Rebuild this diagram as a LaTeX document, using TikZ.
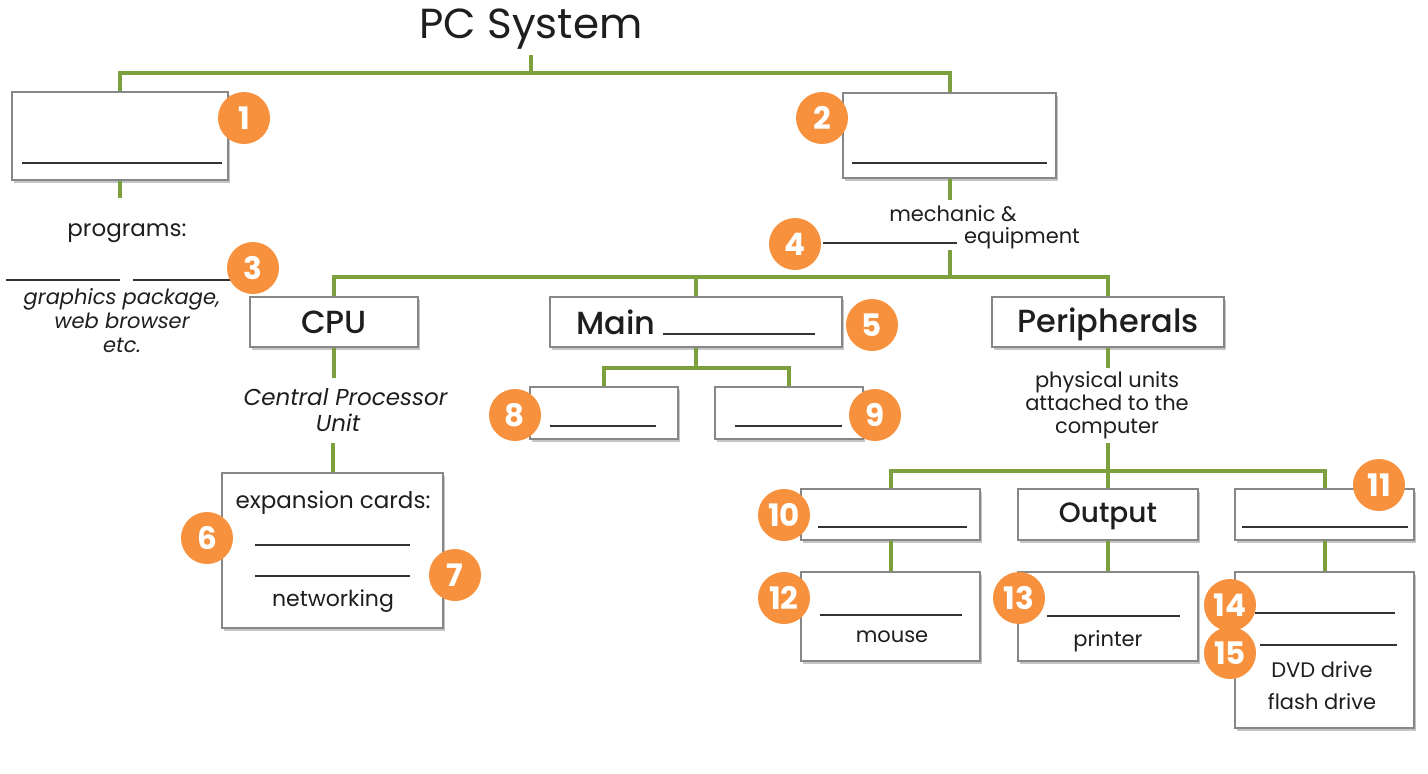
\documentclass[tikz,border=0pt]{standalone}
\usepackage{fontspec}
\setmainfont{Poppins}
\newfontfamily\pmed{Poppins Medium}
\usetikzlibrary{shadows}
\definecolor{grn}{RGB}{125,160,62}
\definecolor{org}{RGB}{247,145,61}
\definecolor{bxd}{RGB}{135,135,135}
\definecolor{txt}{RGB}{30,30,30}
\begin{document}
\begin{tikzpicture}[x=1pt,y=-1pt,
 box/.style={draw=bxd, line width=1.2pt, fill=white, inner sep=0pt,
   drop shadow={shadow xshift=1.5pt, shadow yshift=-3pt, fill=black!45, opacity=0.5}},
 conn/.style={grn, line width=4pt},
 blank/.style={black!80, line width=1.5pt},
 badge/.style={circle, fill=org, minimum size=52pt, inner sep=0pt, text=white,
   font=\fontsize{31}{31}\selectfont\bfseries},
 lbl/.style={font=\fontsize{32}{34}\pmed, text=txt, inner sep=0pt},
 sm/.style={font=\fontsize{21}{23}\selectfont, text=txt, inner sep=0pt, align=center},
 smb/.style={font=\fontsize{23}{25}\selectfont, text=txt, inner sep=0pt, align=center},
 smi/.style={font=\fontsize{21}{24}\selectfont\itshape, text=txt, inner sep=0pt, align=center},
]
\useasboundingbox (0,0) rectangle (1428,774);
% title
\node[font=\fontsize{42}{42}\selectfont, text=txt, inner sep=0pt] (title) at (531,29) {PC System};
% boxes
\node[box, minimum width=216pt, minimum height=88pt] (b1) at (120,136) {};
\node[box, minimum width=213pt, minimum height=85pt] (b2) at (949.5,135.5) {};
\node[box, minimum width=168pt, minimum height=50pt] (cpu) at (334,322) {};
\node[box, minimum width=292pt, minimum height=50pt] (main) at (696,322) {};
\node[box, minimum width=232pt, minimum height=50pt] (per) at (1108,322) {};
\node[box, minimum width=148pt, minimum height=52pt] (b8) at (604,413) {};
\node[box, minimum width=148pt, minimum height=52pt] (b9) at (789,413) {};
\node[box, minimum width=221pt, minimum height=155pt] (exp) at (332.5,550.5) {};
\node[box, minimum width=179pt, minimum height=51pt] (b10) at (890.5,514.5) {};
\node[box, minimum width=180pt, minimum height=51pt] (out) at (1108,514.5) {};
\node[box, minimum width=179pt, minimum height=51pt] (b11) at (1324.5,514.5) {};
\node[box, minimum width=179pt, minimum height=89pt] (b12) at (890.5,616.5) {};
\node[box, minimum width=180pt, minimum height=89pt] (b13) at (1108,616.5) {};
\node[box, minimum width=179pt, minimum height=156pt] (b14) at (1324.5,650) {};
% coordinates for connectors
\coordinate (t0) at (531,55);
\coordinate (bus0) at (531,73);
\coordinate (p0) at (120,198);
\coordinate (m0) at (949.5,200);
\coordinate (m1) at (950,250);
\coordinate (bus1) at (950,277);
\coordinate (bus2) at (696,368);
\coordinate (c0) at (334,378);
\coordinate (c1) at (332.5,443);
\coordinate (q0) at (1108,368);
\coordinate (q1) at (1108,443);
\coordinate (bus3) at (1108,471);
% connectors
\draw[conn] (t0) -- (bus0);
\draw[conn] (b1.north) |- (bus0) -| (b2.north);
\draw[conn] (b1.south) -- (p0);
\draw[conn] (b2.south) -- (m0);
\draw[conn] (m1) -- (bus1);
\draw[conn] (cpu.north) |- (bus1) -| (per.north);
\draw[conn] (main.north) -- (main.north |- bus1);
\draw[conn] (main.south) -- (bus2);
\draw[conn] (b8.north) |- (bus2) -| (b9.north);
\draw[conn] (cpu.south) -- (c0);
\draw[conn] (c1) -- (exp.north);
\draw[conn] (per.south) -- (q0);
\draw[conn] (q1) -- (bus3);
\draw[conn] (b10.north) |- (bus3) -| (b11.north);
\draw[conn] (out.north) -- (bus3);
\draw[conn] (b10.south) -- (b12.north);
\draw[conn] (out.south) -- (b13.north);
\draw[conn] (b11.south) -- (b14.north);
% box labels
\node[lbl] (tcpu) at (334,322) {CPU};
\node[lbl] (tmain) at (616,322) {Main};
\node[lbl] (tper) at (1108,324) {Peripherals};
\node[lbl, font=\fontsize{28}{30}\pmed] (tout) at (1108,516) {Output};
% small text
\node[smb] (tprog) at (127,233) {programs:};
\node[smi] (tgra) at (122,321) {graphics package,\\web browser\\etc.};
\node[sm] (tmech) at (953,214) {mechanic \&};
\node[sm] (tequ) at (1022,238) {equipment};
\node[smi, font=\fontsize{23}{25}\selectfont\itshape] (tcen) at (345.5,397) {Central Processor};
\node[smi, font=\fontsize{23}{25}\selectfont\itshape] (tunit) at (338,423) {Unit};
\node[sm] (tphy) at (1107,405) {physical units\\attached to the\\computer};
\node[smb] (texp) at (333,503) {expansion cards:};
\node[smb, font=\fontsize{22}{24}\selectfont] (tnet) at (333,601) {networking};
\node[sm] (tmou) at (892,637) {mouse};
\node[sm] (tpri) at (1108,641) {printer};
\node[sm] (tdvd) at (1322,670) {DVD drive};
\node[sm] (tfla) at (1322,702) {flash drive};
% blanks
\draw[blank] (22,163) -- (222,163);
\draw[blank] (852,163) -- (1047,163);
\draw[blank] (6,280) -- (120,280);
\draw[blank] (133,280) -- (232,280);
\draw[blank] (823,243) -- (957,243);
\draw[blank] (663,334) -- (815,334);
\draw[blank] (550,426) -- (656,426);
\draw[blank] (735,426) -- (842,426);
\draw[blank] (255,545) -- (410,545);
\draw[blank] (255,576) -- (410,576);
\draw[blank] (818,527) -- (967,527);
\draw[blank] (1242,527) -- (1408,527);
\draw[blank] (820,615) -- (962,615);
\draw[blank] (1047,616) -- (1180,616);
\draw[blank] (1255,613) -- (1395,613);
\draw[blank] (1260,645) -- (1397,645);
% badges
\node[badge] (n1) at (244,118) {1};
\node[badge] (n2) at (822,118) {2};
\node[badge] (n3) at (253,268) {3};
\node[badge] (n4) at (795,244) {4};
\node[badge] (n5) at (872,325) {5};
\node[badge] (n6) at (207,538) {6};
\node[badge] (n7) at (455,575) {7};
\node[badge] (n8) at (515,415) {8};
\node[badge] (n9) at (875,415) {9};
\node[badge] (n10) at (784,515) {10};
\node[badge] (n11) at (1379,485) {11};
\node[badge] (n12) at (784,598) {12};
\node[badge] (n13) at (1019,598) {13};
\node[badge] (n14) at (1230,605) {14};
\node[badge] (n15) at (1230,653) {15};
\end{tikzpicture}
\end{document}
